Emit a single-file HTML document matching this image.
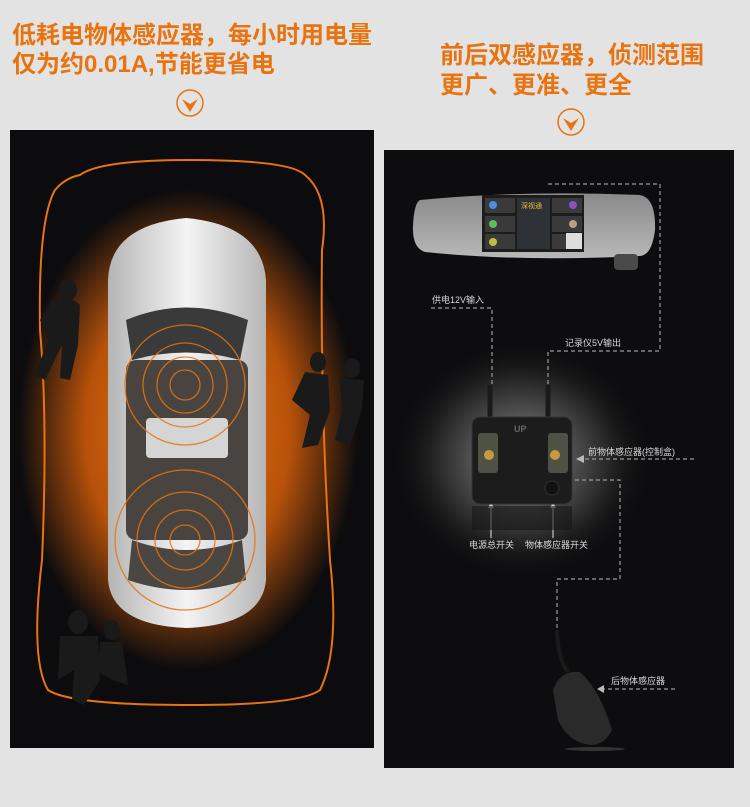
<!DOCTYPE html>
<html><head><meta charset="utf-8"><style>
body{margin:0;background:#e3e3e3;width:750px;height:802px;overflow:hidden;font-family:"Liberation Sans","Noto Sans CJK SC",sans-serif}
</style></head><body>
<svg width="750" height="802" viewBox="0 0 750 802" xmlns="http://www.w3.org/2000/svg" font-family="Liberation Sans, Noto Sans CJK SC, sans-serif">
<defs>
<radialGradient id="og" cx="0.5" cy="0.5" r="0.5">
<stop offset="0" stop-color="#f07a10"/><stop offset="0.6" stop-color="#b8520a"/><stop offset="1" stop-color="#0c0c0e"/></radialGradient>
<radialGradient id="wg" cx="0.5" cy="0.5" r="0.5">
<stop offset="0" stop-color="#bdbdbd"/><stop offset="0.3" stop-color="#5e5e5e"/><stop offset="0.7" stop-color="#222"/><stop offset="1" stop-color="#0d0d0f" stop-opacity="0"/></radialGradient>
<linearGradient id="mg" x1="0" y1="0" x2="0" y2="1"><stop offset="0" stop-color="#8a8a8a"/><stop offset="1" stop-color="#b8b8b8"/></linearGradient>
<linearGradient id="cg" x1="0" y1="0" x2="1" y2="0"><stop offset="0" stop-color="#b5b5b5"/><stop offset="0.5" stop-color="#f4f4f4"/><stop offset="1" stop-color="#b5b5b5"/></linearGradient>
</defs>
<g fill="#e8730f" font-weight="bold" font-size="24">
<text x="12" y="43">低耗电物体感应器，每小时用电量</text>
<text x="12" y="72">仅为约0.01A,节能更省电</text>
<text x="440" y="63">前后双感应器，侦测范围</text>
<text x="440" y="93">更广、更准、更全</text>
</g>
<g fill="none" stroke="#e8730f" stroke-width="1.5"><ellipse cx="190" cy="103" rx="13" ry="13"/><ellipse cx="571" cy="122" rx="13" ry="13"/></g>
<path d="M182 99 L190 112 L198 99 L190 104Z M563 118 L571 131 L579 118 L571 123Z" fill="#e8730f"/>

<rect x="10" y="130" width="364" height="618" fill="#0c0c0e"/>
<ellipse cx="188" cy="430" rx="170" ry="240" fill="url(#og)"/>
<path d="M80 175 Q100 160 190 160 Q290 160 305 175 Q330 195 322 250 Q320 400 330 560 Q340 650 320 690 Q300 705 190 705 Q70 705 48 690 Q30 660 42 560 Q48 420 40 330 Q38 220 55 190 Q65 178 80 175Z" fill="none" stroke="#e8730f" stroke-width="2"/>
<path d="M108 280 Q110 225 186 218 Q262 225 266 280 L266 580 Q262 625 186 628 Q112 625 108 580Z" fill="url(#cg)"/>
<path d="M126 320 Q186 295 248 320 L240 360 Q186 345 132 360Z" fill="#3a3a3a"/>
<rect x="126" y="360" width="122" height="180" rx="10" fill="#4a4440"/>
<rect x="146" y="418" width="82" height="40" rx="4" fill="#d5d5d5"/>
<path d="M132 540 Q186 560 242 540 L246 580 Q186 600 128 580Z" fill="#4a4642"/>
<g fill="none" stroke="#e8730f" stroke-width="1.3" opacity="0.85">
<circle cx="185" cy="385" r="15"/><circle cx="185" cy="385" r="28"/><circle cx="185" cy="385" r="42"/><circle cx="185" cy="385" r="60"/>
<circle cx="185" cy="540" r="15"/><circle cx="185" cy="540" r="30"/><circle cx="185" cy="540" r="48"/><circle cx="185" cy="540" r="70"/></g>
<g fill="#1a1a1a">
<ellipse cx="68" cy="290" rx="9" ry="11"/><path d="M52 300 Q70 295 80 305 L78 345 L70 380 L60 378 L62 345 L45 380 L35 375 L48 340 L40 320Z"/>
<ellipse cx="318" cy="362" rx="8" ry="10"/><path d="M305 372 L328 375 L330 410 L318 445 L302 448 L310 415 L292 400Z"/>
<ellipse cx="352" cy="368" rx="8" ry="10"/><path d="M340 378 L364 380 L362 410 L350 445 L335 440 L342 410Z"/>
<ellipse cx="78" cy="622" rx="10" ry="12"/><path d="M60 636 L98 636 L100 680 L84 705 L72 700 L74 670 L58 680Z"/>
<ellipse cx="112" cy="630" rx="8" ry="10"/><path d="M100 642 L122 642 L128 685 L112 680 L98 672Z"/>
</g>

<rect x="384" y="150" width="350" height="618" fill="#0d0d0f"/>
<ellipse cx="522" cy="460" rx="130" ry="120" fill="url(#wg)"/>
<path d="M420 200 Q520 190 640 195 Q656 198 655 230 Q652 255 640 256 Q520 262 425 252 Q412 248 413 226 Q414 203 420 200Z" fill="url(#mg)"/>
<rect x="482" y="195" width="102" height="57" fill="#1c1c1c"/>
<g fill="#3a3a3a"><rect x="485" y="198" width="30" height="15"/><rect x="485" y="216" width="30" height="16"/><rect x="485" y="234" width="30" height="15"/><rect x="552" y="198" width="30" height="15"/><rect x="552" y="216" width="30" height="16"/><rect x="552" y="234" width="30" height="15"/><rect x="517" y="198" width="33" height="51" fill="#2e3236"/></g>
<circle cx="493" cy="205" r="4" fill="#4a8fe0"/><circle cx="493" cy="224" r="4" fill="#5cbf5c"/><circle cx="493" cy="242" r="4" fill="#b6c040"/><circle cx="573" cy="205" r="4" fill="#8a4fc0"/><circle cx="573" cy="224" r="4" fill="#b5a27a"/>
<rect x="566" y="233" width="16" height="16" fill="#ddd"/>
<text x="521" y="208" font-size="7" fill="#e2c030">深视通</text>
<rect x="614" y="254" width="24" height="16" rx="4" fill="#4a4a4a"/>
<g fill="#d8d8d8" font-size="9">
<text x="432" y="303">供电12V输入</text>
<text x="565" y="346">记录仪5V输出</text>
<text x="588" y="455">前物体感应器(控制盒)</text>
<text x="469" y="548">电源总开关</text>
<text x="525" y="548">物体感应器开关</text>
<text x="611" y="684">后物体感应器</text>
</g>
<g fill="none" stroke="#9a9a9a" stroke-width="1.2" stroke-dasharray="4,3">
<path d="M431 308 H492 V385"/>
<path d="M548 184 H660 V351 H548 V385"/>
<path d="M694 459 H582"/>
<path d="M575 480 H620 V579 H557 V630"/>
<path d="M601 689 H675"/>
</g>
<path d="M576 459 L584 455 L584 463Z M597 689 L604 685 L604 693Z" fill="#bbb"/>
<g stroke="#bbb" stroke-width="1.3"><path d="M491 504 V538 M553 504 V538"/></g>
<path d="M491 502 L488 508 L494 508Z M553 502 L550 508 L556 508Z" fill="#ccc"/>
<g stroke="#1a1a1a" stroke-width="5" fill="none"><path d="M490 385 V420 M548 385 V420"/></g>
<rect x="472" y="417" width="100" height="87" rx="8" fill="#1c1c1c" stroke="#333"/>
<rect x="478" y="433" width="20" height="40" rx="3" fill="#4d5245"/><rect x="548" y="433" width="20" height="40" rx="3" fill="#4d5245"/>
<circle cx="489" cy="455" r="5" fill="#c89a40"/><circle cx="555" cy="455" r="5" fill="#c89a40"/>
<text x="514" y="432" font-size="9" fill="#666" font-weight="bold">UP</text>
<circle cx="552" cy="488" r="7" fill="#111" stroke="#333"/>
<rect x="472" y="506" width="100" height="24" fill="#161616" opacity="0.6"/>
<path d="M557 630 Q558 660 568 672" stroke="#1a1a1a" stroke-width="4" fill="none"/>
<path d="M553 690 Q560 670 580 672 Q600 690 612 730 Q605 745 590 745 Q568 742 558 720Z" fill="#2a2a2a"/>
<ellipse cx="595" cy="749" rx="30" ry="2" fill="#333"/>
</svg>
</body></html>
